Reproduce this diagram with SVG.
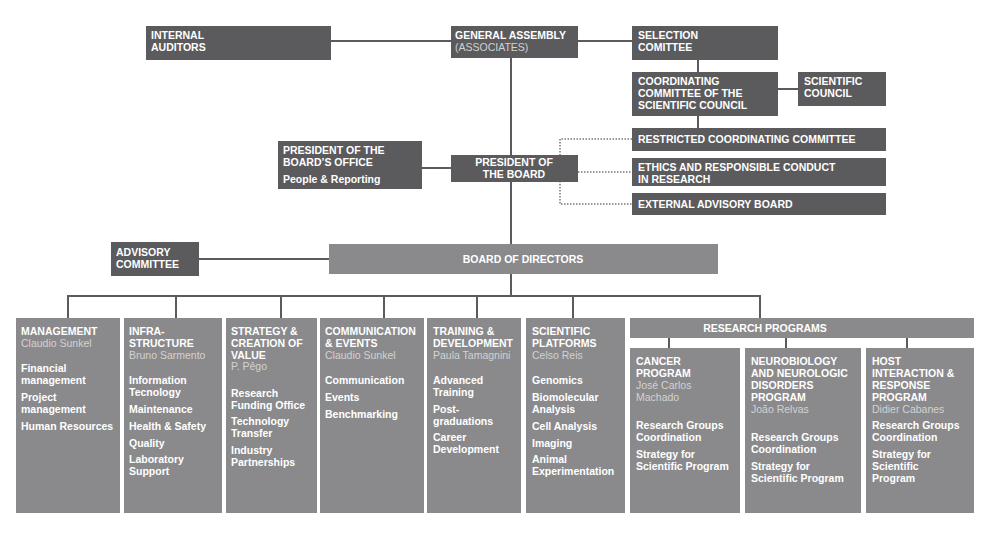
<svg xmlns="http://www.w3.org/2000/svg" width="990" height="536" viewBox="0 0 990 536">
<style>
.d{fill:#5b5b5d}.l{fill:#8a8a8c}
text{font-family:"Liberation Sans",Arial,sans-serif;font-size:10.5px;fill:#fff;font-weight:bold}
.n{font-weight:normal;fill:#d2d2d2}
.c{text-anchor:middle}
.ln{stroke:#5b5b5d;stroke-width:2;fill:none}
.dt{stroke:#777;stroke-width:1.5;stroke-dasharray:1.5 1.5;fill:none}
</style>
<rect width="990" height="536" fill="#fff"/>
<g id="connectors">
<path class="ln" d="M331 41H632M511 58V296M698 60V72M698 116V128M778 89H798M422 168H451M68 318V296H760V318M176 296V318M281 296V318M384 296V318M477 296V318M573 296V318M199 259H329M669 338V348M786 338V348M907 338V348"/>
<path class="dt" d="M578 168H560M632 139H560V204H632M560 172H632"/>
</g>
<g id="internal"><rect class="d" x="146" y="26" width="185" height="34"/><text x="151" y="39">INTERNAL</text><text x="151" y="51">AUDITORS</text></g>
<g id="assembly"><rect class="d" x="451" y="26" width="127" height="32"/><text x="455" y="39">GENERAL ASSEMBLY</text><text class="n" x="455" y="51">(ASSOCIATES)</text></g>
<g id="selection"><rect class="d" x="632" y="26" width="146" height="34"/><text x="638" y="39">SELECTION</text><text x="638" y="51">COMITTEE</text></g>
<g id="coord"><rect class="d" x="632" y="72" width="146" height="44"/><text x="638" y="85">COORDINATING</text><text x="638" y="97">COMMITTEE OF THE</text><text x="638" y="109">SCIENTIFIC COUNCIL</text></g>
<g id="scicouncil"><rect class="d" x="798" y="72" width="88" height="34"/><text x="804" y="85">SCIENTIFIC</text><text x="804" y="97">COUNCIL</text></g>
<g id="restricted"><rect class="d" x="632" y="128" width="254" height="23"/><text x="638" y="143">RESTRICTED COORDINATING COMMITTEE</text></g>
<g id="ethics"><rect class="d" x="632" y="158" width="254" height="28"/><text x="638" y="171">ETHICS AND RESPONSIBLE CONDUCT</text><text x="638" y="183">IN RESEARCH</text></g>
<g id="external"><rect class="d" x="632" y="193" width="254" height="22"/><text x="638" y="208">EXTERNAL ADVISORY BOARD</text></g>
<g id="office"><rect class="d" x="278" y="141" width="144" height="48"/><text x="283" y="154">PRESIDENT OF THE</text><text x="283" y="166">BOARD’S OFFICE</text><text x="283" y="183">People &amp; Reporting</text></g>
<g id="president"><rect class="d" x="451" y="155" width="127" height="27"/><text class="c" x="514" y="166">PRESIDENT OF</text><text class="c" x="514" y="178">THE BOARD</text></g>
<g id="advisory"><rect class="d" x="111" y="242" width="88" height="34"/><text x="116" y="256">ADVISORY</text><text x="116" y="268">COMMITTEE</text></g>
<g id="board"><rect class="l" x="329" y="244" width="389" height="30"/><text class="c" x="523" y="263">BOARD OF DIRECTORS</text></g>
<g id="management"><rect class="l" x="16" y="318" width="104" height="195"/><text x="21" y="335">MANAGEMENT</text><text class="n" x="21" y="347">Claudio Sunkel</text><text x="21" y="372">Financial</text><text x="21" y="384">management</text><text x="21" y="401">Project</text><text x="21" y="413">management</text><text x="21" y="430">Human Resources</text></g>
<g id="infra"><rect class="l" x="124" y="318" width="98" height="195"/><text x="129" y="335">INFRA-</text><text x="129" y="347">STRUCTURE</text><text class="n" x="129" y="359">Bruno Sarmento</text><text x="129" y="384">Information</text><text x="129" y="396">Tecnology</text><text x="129" y="413">Maintenance</text><text x="129" y="430">Health &amp; Safety</text><text x="129" y="447">Quality</text><text x="129" y="463">Laboratory</text><text x="129" y="475">Support</text></g>
<g id="strategy"><rect class="l" x="226" y="318" width="91" height="195"/><text x="231" y="335">STRATEGY &amp;</text><text x="231" y="347">CREATION OF</text><text x="231" y="359">VALUE</text><text class="n" x="231" y="370">P. Pêgo</text><text x="231" y="397">Research</text><text x="231" y="409">Funding Office</text><text x="231" y="425">Technology</text><text x="231" y="437">Transfer</text><text x="231" y="454">Industry</text><text x="231" y="466">Partnerships</text></g>
<g id="communication"><rect class="l" x="320" y="318" width="104" height="195"/><text x="325" y="335">COMMUNICATION</text><text x="325" y="347">&amp; EVENTS</text><text class="n" x="325" y="359">Claudio Sunkel</text><text x="325" y="384">Communication</text><text x="325" y="401">Events</text><text x="325" y="418">Benchmarking</text></g>
<g id="training"><rect class="l" x="427" y="318" width="94" height="195"/><text x="433" y="335">TRAINING &amp;</text><text x="433" y="347">DEVELOPMENT</text><text class="n" x="433" y="359">Paula Tamagnini</text><text x="433" y="384">Advanced</text><text x="433" y="396">Training</text><text x="433" y="413">Post-</text><text x="433" y="425">graduations</text><text x="433" y="441">Career</text><text x="433" y="453">Development</text></g>
<g id="platforms"><rect class="l" x="526" y="318" width="99" height="195"/><text x="532" y="335">SCIENTIFIC</text><text x="532" y="347">PLATFORMS</text><text class="n" x="532" y="359">Celso Reis</text><text x="532" y="384">Genomics</text><text x="532" y="401">Biomolecular</text><text x="532" y="413">Analysis</text><text x="532" y="430">Cell Analysis</text><text x="532" y="447">Imaging</text><text x="532" y="463">Animal</text><text x="532" y="475">Experimentation</text></g>
<g id="research"><rect class="l" x="630" y="318" width="344" height="20"/><text class="c" x="765" y="332">RESEARCH PROGRAMS</text></g>
<g id="cancer"><rect class="l" x="630" y="348" width="110" height="165"/><text x="636" y="365">CANCER</text><text x="636" y="377">PROGRAM</text><text class="n" x="636" y="389">José Carlos</text><text class="n" x="636" y="401">Machado</text><text x="636" y="429">Research Groups</text><text x="636" y="441">Coordination</text><text x="636" y="458">Strategy for</text><text x="636" y="470">Scientific Program</text></g>
<g id="neuro"><rect class="l" x="745" y="348" width="116" height="165"/><text x="751" y="365">NEUROBIOLOGY</text><text x="751" y="377">AND NEUROLOGIC</text><text x="751" y="389">DISORDERS</text><text x="751" y="401">PROGRAM</text><text class="n" x="751" y="413">João Relvas</text><text x="751" y="441">Research Groups</text><text x="751" y="453">Coordination</text><text x="751" y="470">Strategy for</text><text x="751" y="482">Scientific Program</text></g>
<g id="host"><rect class="l" x="866" y="348" width="108" height="165"/><text x="872" y="365">HOST</text><text x="872" y="377">INTERACTION &amp;</text><text x="872" y="389">RESPONSE</text><text x="872" y="401">PROGRAM</text><text class="n" x="872" y="413">Didier Cabanes</text><text x="872" y="429">Research Groups</text><text x="872" y="441">Coordination</text><text x="872" y="458">Strategy for</text><text x="872" y="470">Scientific</text><text x="872" y="482">Program</text></g>
</svg>
